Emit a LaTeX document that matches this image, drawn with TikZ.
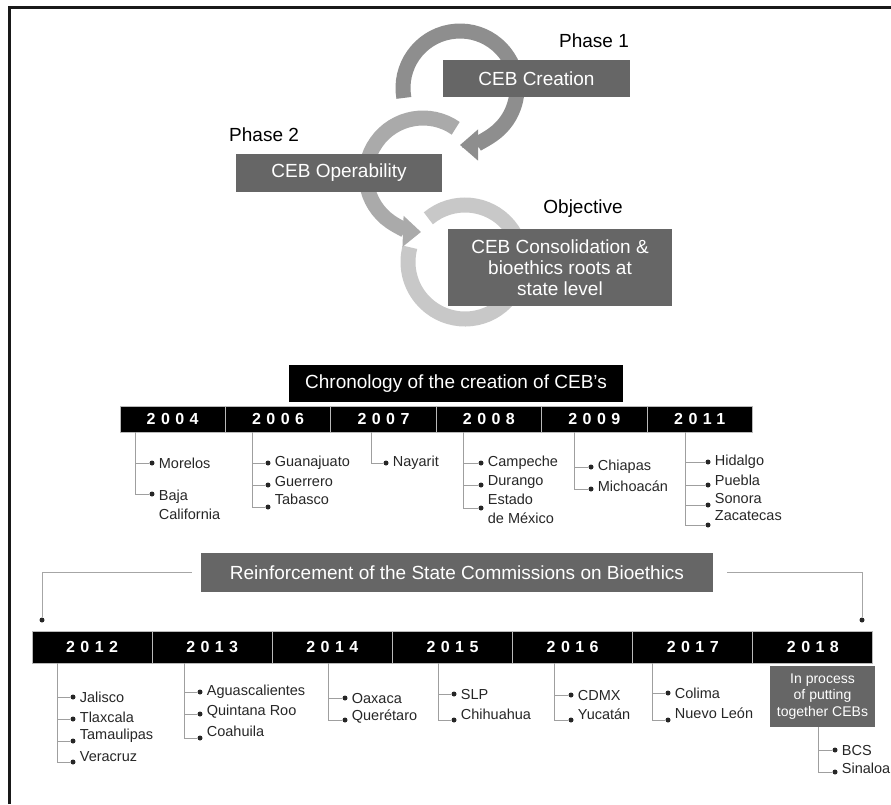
\documentclass[tikz,border=0pt]{standalone}
\usepackage{fontspec}
\setmainfont{Liberation Sans}
\newfontfamily\yearfont{Liberation Sans}[LetterSpace=34]
\usetikzlibrary{arrows.meta,positioning}
\definecolor{boxgray}{RGB}{102,102,102}
\definecolor{ringa}{RGB}{142,142,142}
\definecolor{ringb}{RGB}{170,170,170}
\definecolor{ringc}{RGB}{200,200,200}
\begin{document}
\begin{tikzpicture}[x=1pt,y=-1pt,
  ring/.style={line width=15pt},
  head/.style={-{Triangle[width=30pt,length=18pt]}},
  gbox/.style={fill=boxgray,text=white,inner sep=0pt,align=center,font=\fontsize{19}{21}\selectfont},
  lbl/.style={inner sep=0pt,font=\fontsize{19}{21}\selectfont},
  ybox/.style={fill=black,draw=gray!55,line width=1pt,outer sep=0pt,text=white,font=\yearfont\bfseries\fontsize{16}{16}\selectfont},
  dot/.style={circle,fill=black!85,inner sep=0pt,minimum size=5pt},
  item/.style={anchor=west,inner sep=0pt,align=left,text=black!85,font=\fontsize{14.5}{19.5}\selectfont},
  twig/.style={draw=gray!75,line width=0.8pt},
  bracket/.style={draw=gray!70,line width=1pt}]
\useasboundingbox (0,0) rectangle (891,804);
\draw[line width=3pt,black!90] (9.5,804) -- (9.5,7.5) -- (891,7.5);
\coordinate (c1) at (460,88);
\coordinate (c2) at (423,175);
\coordinate (c3) at (465,262);
\draw[ring,ringc] (c3) ++(130:57pt) arc[start angle=130,end angle=-195,radius=57pt];
\draw[ring,ringb,head] (c2) ++(55:57pt) arc[start angle=55,end angle=268,radius=57pt];
\draw[ring,ringa,head] (c1) ++(190:57pt) arc[start angle=190,end angle=-90,radius=57pt];
\node[gbox,minimum width=187pt,minimum height=37pt] (crt) at (536.5,78.5) {CEB Creation};
\node[lbl] (ph1) at (594,41) {Phase 1};
\node[gbox,minimum width=206pt,minimum height=38pt] (opr) at (339,173) {CEB Operability};
\node[lbl,anchor=west] (ph2) at (229,135) {Phase 2};
\node[gbox,minimum width=224pt,minimum height=77pt] (obj) at (560,267.5) {CEB Consolidation \&\\bioethics roots at\\state level};
\node[lbl] (objl) at (583,209) {Objective};
\node[gbox,fill=black,minimum width=334pt,minimum height=37pt] (chr) at (456,383.5) {Chronology of the creation of CEB’s};
\node[ybox,minimum width=105.4pt,minimum height=26pt] (y04) at (172.7,419) {2004};
\node[ybox,minimum width=105.4pt,minimum height=26pt,right=0pt of y04] (y06) {2006};
\node[ybox,minimum width=105.4pt,minimum height=26pt,right=0pt of y06] (y07) {2007};
\node[ybox,minimum width=105.4pt,minimum height=26pt,right=0pt of y07] (y08) {2008};
\node[ybox,minimum width=105.4pt,minimum height=26pt,right=0pt of y08] (y09) {2009};
\node[ybox,minimum width=105.4pt,minimum height=26pt,right=0pt of y09] (y11) {2011};
\coordinate (s04) at (135,432);
\node[dot] (d04a) at (152,463) {};
\node[dot] (d04b) at (152,494) {};
\draw[twig] (s04) |- (d04a);
\draw[twig] (s04) |- (d04b);
\node[item,right=4pt of d04a] (t04a) {Morelos};
\node[item,right=4pt of d04b,yshift=-11pt] (t04b) {Baja\\California};
\coordinate (s06) at (252,432);
\node[dot] (d06a) at (268,463) {};
\node[dot] (d06b) at (268,485) {};
\node[dot] (d06c) at (268,507) {};
\draw[twig] (s06) |- (d06a);
\draw[twig] (s06) |- (d06b);
\draw[twig] (s06) |- (d06c);
\node[item,right=4pt of d06a] (t06a) {Guanajuato};
\node[item,right=4pt of d06b,yshift=4pt] (t06b) {Guerrero};
\node[item,right=4pt of d06c,yshift=8pt] (t06c) {Tabasco};
\coordinate (s07) at (371,432);
\node[dot] (d07a) at (386,463) {};
\draw[twig] (s07) |- (d07a);
\node[item,right=4pt of d07a] (t07a) {Nayarit};
\coordinate (s08) at (463,432);
\node[dot] (d08a) at (481,463) {};
\node[dot] (d08b) at (481,485) {};
\node[dot] (d08c) at (481,508) {};
\draw[twig] (s08) |- (d08a);
\draw[twig] (s08) |- (d08b);
\draw[twig] (s08) |- (d08c);
\node[item,right=4pt of d08a] (t08a) {Campeche};
\node[item,right=4pt of d08b,yshift=3pt] (t08b) {Durango};
\node[item,right=4pt of d08c,yshift=-1pt] (t08c) {Estado\\de México};
\coordinate (s09) at (574,432);
\node[dot] (d09a) at (591,467) {};
\node[dot] (d09b) at (591,489) {};
\draw[twig] (s09) |- (d09a);
\draw[twig] (s09) |- (d09b);
\node[item,right=4pt of d09a] (t09a) {Chiapas};
\node[item,right=4pt of d09b,yshift=3pt] (t09b) {Michoacán};
\coordinate (s11) at (685,432);
\node[dot] (d11a) at (708,462) {};
\node[dot] (d11b) at (708,485) {};
\node[dot] (d11c) at (708,505) {};
\node[dot] (d11d) at (708,525) {};
\draw[twig] (s11) |- (d11a);
\draw[twig] (s11) |- (d11b);
\draw[twig] (s11) |- (d11c);
\draw[twig] (s11) |- (d11d);
\node[item,right=4pt of d11a] (t11a) {Hidalgo};
\node[item,right=4pt of d11b,yshift=5pt] (t11b) {Puebla};
\node[item,right=4pt of d11c,yshift=7pt] (t11c) {Sonora};
\node[item,right=4pt of d11d,yshift=9pt] (t11d) {Zacatecas};
\node[gbox,minimum width=512pt,minimum height=39pt] (rein) at (457,572.5) {Reinforcement of the State Commissions on Bioethics};
\node[dot] (lend) at (42,620) {};
\node[dot] (rend) at (862,620) {};
\draw[bracket] ([xshift=-9pt]rein.west) -| (lend);
\draw[bracket] ([xshift=14pt]rein.east) -| (rend);
\node[ybox,minimum width=120.14pt,minimum height=32pt] (y12) at (92.07,647) {2012};
\node[ybox,minimum width=120.14pt,minimum height=32pt,right=0pt of y12] (y13) {2013};
\node[ybox,minimum width=120.14pt,minimum height=32pt,right=0pt of y13] (y14) {2014};
\node[ybox,minimum width=120.14pt,minimum height=32pt,right=0pt of y14] (y15) {2015};
\node[ybox,minimum width=120.14pt,minimum height=32pt,right=0pt of y15] (y16) {2016};
\node[ybox,minimum width=120.14pt,minimum height=32pt,right=0pt of y16] (y17) {2017};
\node[ybox,minimum width=120.14pt,minimum height=32pt,right=0pt of y17] (y18) {2018};
\coordinate (s12) at (57,663);
\node[dot] (d12a) at (73,697) {};
\node[dot] (d12b) at (73,719) {};
\node[dot] (d12c) at (73,741) {};
\node[dot] (d12d) at (73,762) {};
\draw[twig] (s12) |- (d12a);
\draw[twig] (s12) |- (d12b);
\draw[twig] (s12) |- (d12c);
\draw[twig] (s12) |- (d12d);
\node[item,right=4pt of d12a] (t12a) {Jalisco};
\node[item,right=4pt of d12b,yshift=2pt] (t12b) {Tlaxcala};
\node[item,right=4pt of d12c,yshift=5pt] (t12c) {Tamaulipas};
\node[item,right=4pt of d12d,yshift=5pt] (t12d) {Veracruz};
\coordinate (s13) at (184,663);
\node[dot] (d13a) at (200,692) {};
\node[dot] (d13b) at (200,714) {};
\node[dot] (d13c) at (200,738) {};
\draw[twig] (s13) |- (d13a);
\draw[twig] (s13) |- (d13b);
\draw[twig] (s13) |- (d13c);
\node[item,right=4pt of d13a] (t13a) {Aguascalientes};
\node[item,right=4pt of d13b,yshift=2pt] (t13b) {Quintana Roo};
\node[item,right=4pt of d13c,yshift=7pt] (t13c) {Coahuila};
\coordinate (s14) at (328,663);
\node[dot] (d14a) at (345,698) {};
\node[dot] (d14b) at (345,720) {};
\draw[twig] (s14) |- (d14a);
\draw[twig] (s14) |- (d14b);
\node[item,right=4pt of d14a] (t14a) {Oaxaca};
\node[item,right=4pt of d14b,yshift=3pt] (t14b) {Querétaro};
\coordinate (s15) at (438,663);
\node[dot] (d15a) at (454,694) {};
\node[dot] (d15b) at (454,720) {};
\draw[twig] (s15) |- (d15a);
\draw[twig] (s15) |- (d15b);
\node[item,right=4pt of d15a] (t15a) {SLP};
\node[item,right=4pt of d15b,yshift=6pt] (t15b) {Chihuahua};
\coordinate (s16) at (554,663);
\node[dot] (d16a) at (571,695) {};
\node[dot] (d16b) at (571,720) {};
\draw[twig] (s16) |- (d16a);
\draw[twig] (s16) |- (d16b);
\node[item,right=4pt of d16a] (t16a) {CDMX};
\node[item,right=4pt of d16b,yshift=6pt] (t16b) {Yucatán};
\coordinate (s17) at (652,663);
\node[dot] (d17a) at (668,693) {};
\node[dot] (d17b) at (668,720) {};
\draw[twig] (s17) |- (d17a);
\draw[twig] (s17) |- (d17b);
\node[item,right=4pt of d17a] (t17a) {Colima};
\node[item,right=4pt of d17b,yshift=7pt] (t17b) {Nuevo León};
\node[gbox,minimum width=105pt,minimum height=61pt,font=\fontsize{14}{16.5}\selectfont] (proc) at (822.5,696.5) {In process\\of putting\\together CEBs};
\coordinate (s18) at (818,727);
\node[dot] (d18a) at (835,750) {};
\node[dot] (d18b) at (835,772) {};
\draw[twig] (s18) |- (d18a);
\draw[twig] (s18) |- (d18b);
\node[item,right=4pt of d18a] (t18a) {BCS};
\node[item,right=4pt of d18b,yshift=4pt] (t18b) {Sinaloa};
\end{tikzpicture}
\end{document}
